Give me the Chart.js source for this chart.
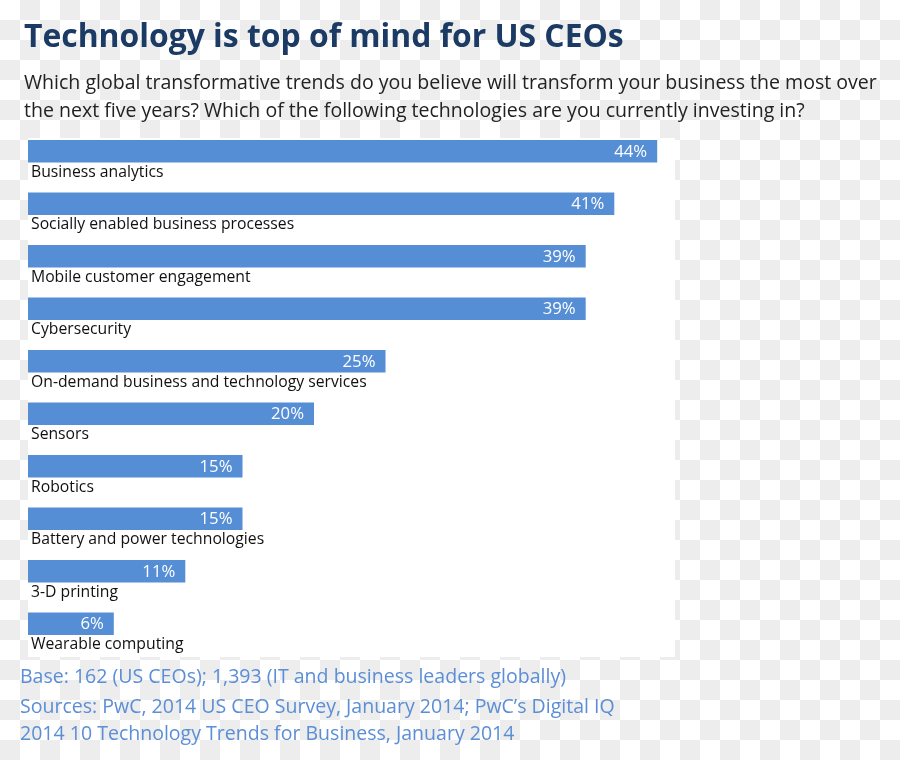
<!DOCTYPE html>
<html><head><meta charset="utf-8">
<script src="https://cdn.jsdelivr.net/npm/chart.js@4/dist/chart.umd.min.js"></script>
<style>
html,body{margin:0;padding:0;}
body{width:900px;height:760px;overflow:hidden;position:relative;
background:repeating-conic-gradient(#ededed 0 25%, #ffffff 0 50%) 0 0/40px 40px;}
#panel{position:absolute;left:28px;top:138px;width:647px;height:519px;background:#fff;}
#wrap{position:absolute;left:0;top:0;width:900px;height:760px;}
</style></head><body>
<div id="panel"></div>
<div id="wrap"><canvas id="c" width="900" height="760"></canvas></div>
<script>
const categories = [
  'Business analytics',
  'Socially enabled business processes',
  'Mobile customer engagement',
  'Cybersecurity',
  'On-demand business and technology services',
  'Sensors',
  'Robotics',
  'Battery and power technologies',
  '3-D printing',
  'Wearable computing'
];
const values = [44, 41, 39, 39, 25, 20, 15, 15, 11, 6];
const valueLabels = values.map(v => v + '%');
const titleText = 'Technology is top of mind for US CEOs';
const subtitleLines = [
  'Which global transformative trends do you believe will transform your business the most over',
  'the next five years? Which of the following technologies are you currently investing in?'
];
const footerLines = [
  'Base: 162 (US CEOs); 1,393 (IT and business leaders globally)',
  'Sources: PwC, 2014 US CEO Survey, January 2014; PwC\u2019s Digital IQ',
  '2014 10 Technology Trends for Business, January 2014'
];

const FAMILY = '"Open Sans", "Noto Sans", sans-serif';
function fitSize(ctx, text, weight, target) {
  ctx.font = weight + ' 100px ' + FAMILY;
  return 100 * target / ctx.measureText(text).width;
}

const textPlugin = {
  id: 'texts',
  afterDatasetsDraw(chart) {
    const ctx = chart.ctx;
    ctx.save();
    // title
    const ts = fitSize(ctx, titleText, 'bold', 600);
    ctx.font = 'bold ' + ts + 'px ' + FAMILY;
    ctx.fillStyle = '#1b3a64';
    ctx.textAlign = 'left';
    ctx.textBaseline = 'alphabetic';
    ctx.fillText(titleText, 24, 47);
    // subtitle
    const ss = (fitSize(ctx, subtitleLines[0], 'normal', 849) + fitSize(ctx, subtitleLines[1], 'normal', 786)) / 2;
    ctx.font = ss + 'px ' + FAMILY;
    ctx.fillStyle = '#222222';
    ctx.fillText(subtitleLines[0], 24, 89);
    ctx.fillText(subtitleLines[1], 24, 116.5);
    // footer
    const fs = (fitSize(ctx, footerLines[0], 'normal', 547) + fitSize(ctx, footerLines[1], 'normal', 598) + fitSize(ctx, footerLines[2], 'normal', 492)) / 3;
    ctx.font = fs + 'px ' + FAMILY;
    ctx.fillStyle = '#5b8ed6';
    ctx.fillText(footerLines[0], 20, 683);
    ctx.fillText(footerLines[1], 20, 712.5);
    ctx.fillText(footerLines[2], 20, 740);
    // bar labels
    const meta = chart.getDatasetMeta(0);
    const cs = fitSize(ctx, categories[4], 'normal', 336);
    const vs = fitSize(ctx, '25%', 'normal', 33);
    meta.data.forEach((bar, i) => {
      ctx.font = cs + 'px ' + FAMILY;
      ctx.fillStyle = '#111111';
      ctx.textAlign = 'left';
      ctx.fillText(categories[i], 31, bar.y + 25.5);
      ctx.font = vs + 'px ' + FAMILY;
      ctx.fillStyle = '#ffffff';
      ctx.textAlign = 'right';
      ctx.fillText(valueLabels[i], bar.x - 10, bar.y + 5.5);
    });
    ctx.restore();
  }
};

new Chart(document.getElementById('c'), {
  type: 'bar',
  data: {
    labels: categories,
    datasets: [{
      data: values,
      backgroundColor: '#558ed5',
      borderWidth: 0,
      barPercentage: 0.43,
      categoryPercentage: 1
    }]
  },
  options: {
    responsive: false,
    animation: false,
    indexAxis: 'y',
    layout: { padding: { left: 28, right: 157, top: 125, bottom: 110 } },
    scales: {
      x: { display: false, min: 0, max: 50 },
      y: { display: false }
    },
    plugins: { legend: { display: false }, tooltip: { enabled: false }, title: { display: false } }
  },
  plugins: [textPlugin]
});
</script>
</body></html>
